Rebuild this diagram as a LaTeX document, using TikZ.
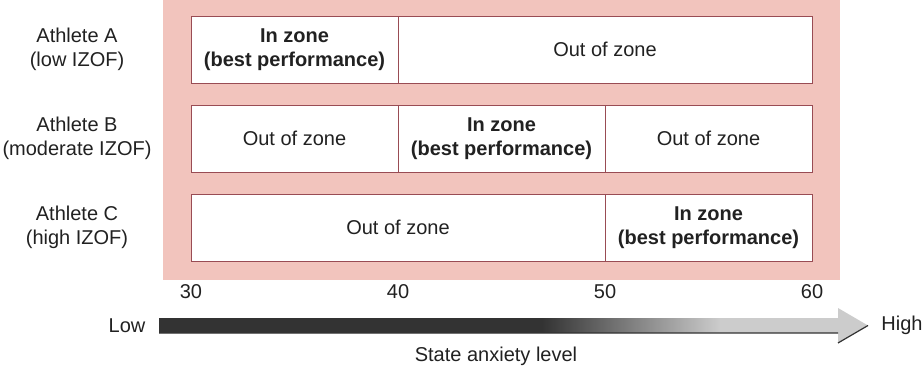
\documentclass[tikz,border=0pt]{standalone}
\usepackage{fontspec}
\setmainfont{Liberation Sans}
\usetikzlibrary{positioning}
\definecolor{zonepink}{rgb}{0.95,0.77,0.74}
\definecolor{zoneedge}{rgb}{0.60,0.30,0.33}
\definecolor{inkgray}{rgb}{0.13,0.13,0.13}
\definecolor{arrowdark}{rgb}{0.20,0.20,0.20}
\definecolor{arrowlight}{rgb}{0.80,0.80,0.80}
\pgfdeclarehorizontalshading{anxiety}{100bp}{color(0bp)=(arrowdark); color(25bp)=(arrowdark); color(52bp)=(arrowdark); color(64.6bp)=(arrowlight); color(75bp)=(arrowlight); color(100bp)=(arrowlight)}
\tikzset{
  cell/.style={
    draw=zoneedge,
    fill=white,
    line width=0.8pt,
    minimum height=67pt,
    inner sep=0pt,
    outer sep=0pt,
    align=center,
    text=inkgray,
    font=\fontsize{20}{24.5}\selectfont
  },
  zone/.style={cell, minimum width=207pt},
  widezone/.style={cell, minimum width=414pt},
  best/.style={font=\fontsize{20}{24.5}\selectfont\bfseries},
  athlete/.style={
    align=center,
    text=inkgray,
    font=\fontsize{20}{24.5}\selectfont
  },
  tick/.style={
    text=inkgray,
    font=\fontsize{20}{24.5}\selectfont
  }
}
\begin{document}
\begin{tikzpicture}[x=1pt,y=1pt]
\useasboundingbox (0,0) rectangle (924,370);
\fill[zonepink] (163,90) rectangle (840,370);
% athlete A
\node[athlete] (la) at (77,320.5) {Athlete A\\(low IZOF)};
\node[zone,best,anchor=west] (a1) at (191,320.5) {In zone\\(best performance)};
\node[widezone,right=0pt of a1] (a2) {Out of zone};
% athlete B
\node[athlete] (lb) at (77,231.5) {Athlete B\\(moderate IZOF)};
\node[zone,anchor=west] (b1) at (191,231.5) {Out of zone};
\node[zone,best,right=0pt of b1] (b2) {In zone\\(best performance)};
\node[zone,right=0pt of b2] (b3) {Out of zone};
% athlete C
\node[athlete] (lc) at (77,142.5) {Athlete C\\(high IZOF)};
\node[widezone,anchor=west] (c1) at (191,142.5) {Out of zone};
\node[zone,best,right=0pt of c1] (c2) {In zone\\(best performance)};
% scale
\node[tick] (t30) at (191,78) {30};
\node[tick] (t40) at (398,78) {40};
\node[tick] (t50) at (605,78) {50};
\node[tick] (t60) at (812,78) {60};
\node[tick] (low) at (127,44.5) {Low};
\node[tick] (high) at (902,44.5) {High};
\node[tick] (title) at (496,14) {State anxiety level};
\shade[shading=anxiety] (159,37) -- (838,37) -- (838,27) -- (868,44.5) -- (838,62) -- (838,52) -- (159,52) -- cycle;
\draw[arrowdark,line width=1.2pt] (159,37) -- (838,37) (838,27) -- (868,44.5);
\end{tikzpicture}
\end{document}
